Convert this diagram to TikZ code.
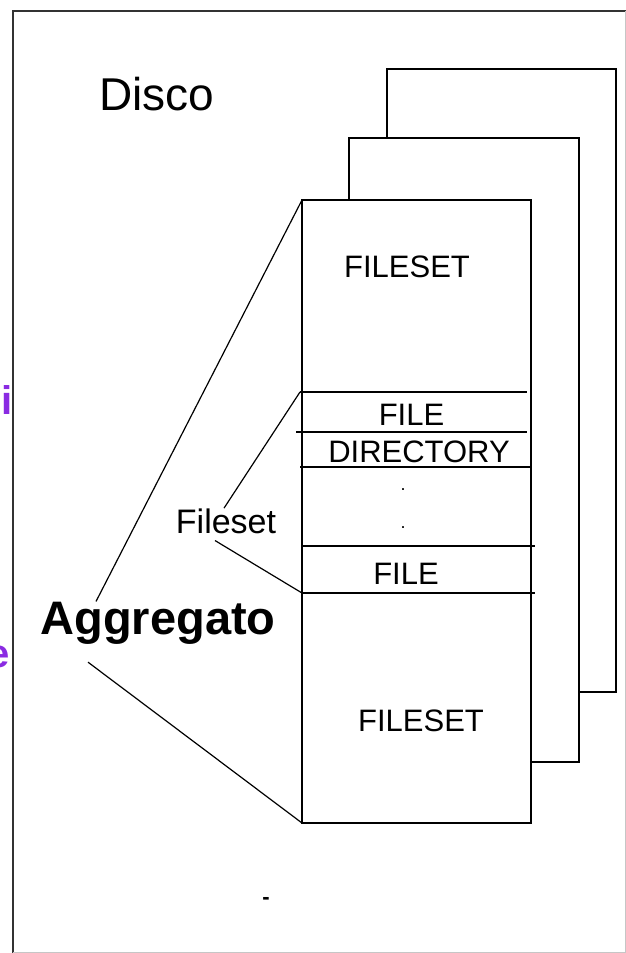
\documentclass[tikz,border=0pt]{standalone}
\usepackage{fontspec}
\setmainfont{Liberation Sans}
\usetikzlibrary{positioning}
\definecolor{violetlbl}{RGB}{138,43,226}

\begin{document}
\begin{tikzpicture}[x=1pt,y=-1pt,
 sheet/.style={draw,line width=2pt,fill=white,inner sep=0pt,outer sep=0pt,minimum width=229pt,minimum height=623pt},
 lbl/.style={inner sep=0pt,anchor=base,font=\fontsize{31}{31}\selectfont},
 sep/.style={line width=2pt},
 lnk/.style={line width=1.2pt}]
\useasboundingbox (0,0) rectangle (626,953);
\clip (0,0) rectangle (626,953);
% cut-off labels at the left edge
\node[inner sep=0pt,anchor=base east,text=violetlbl,font=\bfseries\fontsize{40}{40}\selectfont] (cutli) at (13,414) {li};
\node[inner sep=0pt,anchor=base east,text=violetlbl,font=\bfseries\fontsize{40}{40}\selectfont] (cute) at (10,667) {e};
% frame
\draw[line width=2pt,black!80] (13,953) -- (13,11) -- (626,11);
\draw[gray!45] (625,11) -- (625,952) -- (13,952);
\node[inner sep=0pt,anchor=base,font=\fontsize{46}{46}\selectfont] (disco) at (157,110) {Disco};
% stacked volumes
\node[sheet] (back) at (501.5,380.5) {};
\node[sheet,minimum width=230pt,minimum height=624pt] (middle) at (464,450) {};
\node[sheet] (front) at (416.5,511.5) {};
\draw[sep] (300,392) coordinate (topw) -- (527,392);
\draw[sep] (296,432) -- (527,432);
\draw[sep] (300,467) -- (531,467);
\draw[sep] (302,546) -- (535,546);
\draw[sep] (302,593) coordinate (botw) -- (535,593);
\node[lbl] (fs1) at (407,277) {FILESET};
\node[lbl] (file1) at (411.5,425) {FILE};
\node[lbl] (dir) at (419,462) {DIRECTORY};
\node[lbl,font=\fontsize{18}{18}\selectfont] (dot1) at (403,490) {.};
\node[lbl,font=\fontsize{18}{18}\selectfont] (dot2) at (403,528) {.};
\node[lbl] (file2) at (406,584) {FILE};
\node[lbl] (fs2) at (421,731) {FILESET};
\node[lbl,font=\bfseries\fontsize{22}{22}\selectfont] (mark) at (266,904) {-};
% side labels
\node[inner sep=0pt,anchor=base,font=\fontsize{34}{34}\selectfont] (fileset) at (226,533) {Fileset};
\node[inner sep=0pt,anchor=base,font=\bfseries\fontsize{47}{47}\selectfont] (aggr) at (158,634) {Aggregato};
\draw[lnk] ([xshift=-2pt]fileset.north) -- (topw);
\draw[lnk] ([shift={(-11,7)}]fileset.south) -- (botw);
\draw[lnk] ([xshift=-62pt]aggr.north) -- (front.north west);
\draw[lnk] ([shift={(-70,18)}]aggr.south) -- (front.south west);
\end{tikzpicture}
\end{document}
